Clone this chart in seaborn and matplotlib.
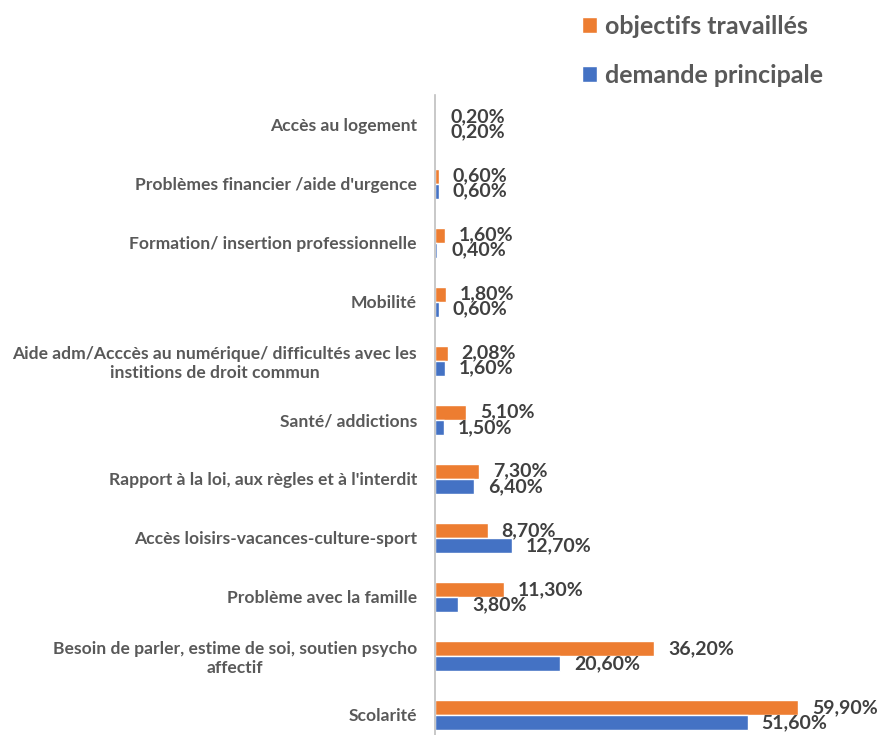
import pandas as pd
import matplotlib.pyplot as plt
import seaborn as sns

categories = [
    "Accès au logement",
    "Problèmes financier /aide d'urgence",
    "Formation/ insertion professionnelle",
    "Mobilité",
    "Aide adm/Acccès au numérique/ difficultés avec les\ninstitions de droit commun",
    "Santé/ addictions",
    "Rapport à la loi, aux règles et à l'interdit",
    "Accès loisirs-vacances-culture-sport",
    "Problème avec la famille",
    "Besoin de parler, estime de soi, soutien psycho\naffectif",
    "Scolarité",
]
objectifs = [0.2, 0.6, 1.6, 1.8, 2.08, 5.1, 7.3, 8.7, 11.3, 36.2, 59.9]
demande = [0.2, 0.6, 0.4, 0.6, 1.6, 1.5, 6.4, 12.7, 3.8, 20.6, 51.6]
series = ["objectifs travaillés", "demande principale"]

df = pd.DataFrame({
    "cat": categories * 2,
    "val": objectifs + demande,
    "serie": [series[0]] * len(categories) + [series[1]] * len(categories),
})

sns.set_style("white")
plt.rcParams["font.family"] = ["Lato", "DejaVu Sans"]

fig = plt.figure(figsize=(8.83, 7.35), dpi=100)
ax = fig.add_axes([435 / 883, 0, 1 - 435 / 883, 640 / 735])

sns.barplot(data=df, y="cat", x="val", hue="serie", order=categories,
            hue_order=series, palette=["#ED7D31", "#4472C4"], saturation=1,
            width=0.51, errorbar=None, orient="h", ax=ax, legend=True)

for cont in ax.containers:
    ax.bar_label(cont, fmt=lambda v: f"{v:.2f}".replace(".", ",") + "%",
                 padding=10, fontsize=14, fontweight="bold", color="#404040")

ax.set_xlim(0, 73.9)
ax.set_ylim(10.34, -0.5)
ax.set_xlabel("")
ax.set_ylabel("")
ax.set_xticks([])
ax.tick_params(axis="y", length=0, pad=13)
for lab in ax.get_yticklabels():
    lab.set_fontsize(12.6)
    lab.set_fontweight("bold")
    lab.set_color("#595959")
    lab.set_multialignment("center")

for s in ["top", "right", "bottom"]:
    ax.spines[s].set_visible(False)
ax.spines["left"].set_color("#BFBFBF")
ax.spines["left"].set_linewidth(1.2)

handles, labels = ax.get_legend_handles_labels()
ax.get_legend().remove()
fig.legend(handles, labels, loc="upper left", bbox_to_anchor=(559 / 883, 1 + 8 / 735),
           frameon=False, prop={"family": "Lato", "weight": "bold", "size": 18},
           labelcolor="#595959", handlelength=0.6, handleheight=0.6,
           handletextpad=0.35, labelspacing=1.05)

fig.savefig("out.png", dpi=100)
